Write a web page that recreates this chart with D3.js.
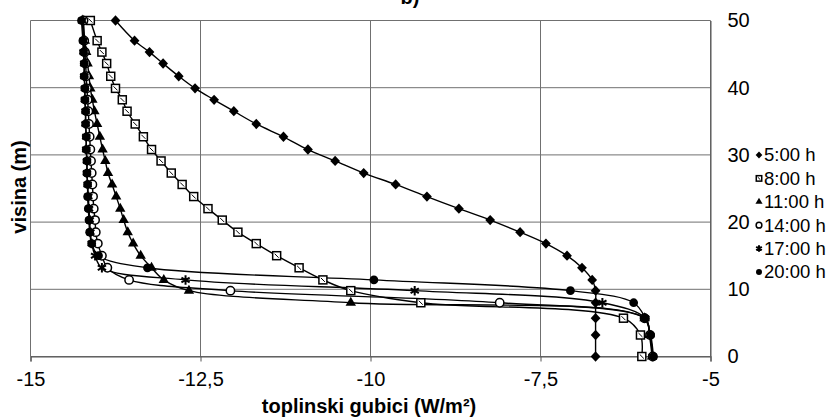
<!DOCTYPE html>
<html><head><meta charset="utf-8">
<script src="https://cdn.jsdelivr.net/npm/d3@7"></script>
<style>
body{margin:0;background:#fff}
svg{display:block}
text{font-family:"Liberation Sans",Arial,sans-serif;fill:#000}
</style>
</head><body>
<svg id="chart" width="831" height="420"></svg>
<script>
// ---- data ----
const heights = [0, 3.2, 5.7, 8.0, 9.8, 11.4, 13.2, 15.0, 16.8, 18.5, 20.3, 22.0, 23.8, 25.6, 27.3, 29.1, 30.8, 32.7, 34.6, 36.5, 38.2, 39.9, 41.7, 43.6, 45.3, 47.0, 50];
const h0500 = [-6.69,-6.69,-6.69,-6.69,-6.69,-6.74,-6.89,-7.11,-7.42,-7.80,-8.24,-8.70,-9.17,-9.63,-10.10,-10.52,-10.92,-11.28,-11.68,-12.01,-12.30,-12.58,-12.82,-13.05,-13.25,-13.47,-13.75];
const h0800 = [-6.01,-6.03,-6.28,-9.26,-10.29,-10.70,-11.05,-11.38,-11.68,-11.95,-12.18,-12.39,-12.60,-12.77,-12.93,-13.08,-13.22,-13.34,-13.46,-13.58,-13.65,-13.75,-13.82,-13.88,-13.95,-14.02,-14.12];
const h1100 = [-5.86,-5.90,-5.97,-10.29,-12.67,-13.04,-13.22,-13.38,-13.49,-13.57,-13.63,-13.68,-13.74,-13.80,-13.86,-13.90,-13.94,-13.98,-14.02,-14.06,-14.09,-14.12,-14.14,-14.16,-14.18,-14.20,-14.23];
const h1400 = [-5.85,-5.89,-5.97,-8.10,-12.06,-13.55,-13.87,-13.95,-14.01,-14.04,-14.05,-14.07,-14.08,-14.09,-14.10,-14.11,-14.12,-14.13,-14.14,-14.15,-14.16,-14.17,-14.18,-14.19,-14.20,-14.21,-14.22];
const h1700 = [-5.85,-5.89,-5.96,-6.59,-9.35,-12.72,-13.95,-14.05,-14.10,-14.12,-14.13,-14.14,-14.15,-14.16,-14.17,-14.17,-14.18,-14.18,-14.19,-14.19,-14.20,-14.20,-14.21,-14.21,-14.22,-14.22,-14.24];
const h2000 = [-5.84,-5.88,-5.96,-6.13,-7.06,-9.95,-13.28,-14.00,-14.10,-14.13,-14.14,-14.15,-14.16,-14.16,-14.17,-14.17,-14.18,-14.18,-14.19,-14.19,-14.20,-14.20,-14.21,-14.21,-14.22,-14.23,-14.25];
const seriesNames = ["5:00 h","8:00 h","11:00 h","14:00 h","17:00 h","20:00 h"];
const seriesValues = [h0500,h0800,h1100,h1400,h1700,h2000];
const xTicks = [-15,-12.5,-10,-7.5,-5];
const yTicks = [0,10,20,30,40,50];
const titleText = "b)";
const xTitle = "toplinski gubici (W/m²)";
const yTitle = "visina (m)";

// ---- layout ----
const L = 30.5, R = 710.5, T = 20.5, B = 356.5;
const svg = d3.select("#chart");
const x = d3.scaleLinear().domain([-15,-5]).range([L,R]);
const y = d3.scaleLinear().domain([0,50]).range([B,T]);
const grid = "#707070";

// gridlines
svg.append("g").selectAll("line").data(xTicks).join("line")
  .attr("x1",d=>x(d)).attr("x2",d=>x(d)).attr("y1",T).attr("y2",B)
  .attr("stroke",grid).attr("stroke-width",1);
svg.append("g").selectAll("line").data(yTicks).join("line")
  .attr("x1",L).attr("x2",R).attr("y1",d=>y(d)).attr("y2",d=>y(d))
  .attr("stroke",grid).attr("stroke-width",1);

// x axis
const xAxis = svg.append("g").attr("transform",`translate(0,${B})`)
  .call(d3.axisBottom(x).tickValues(xTicks).tickSize(5).tickPadding(10)
    .tickFormat(d=>String(d).replace(".",",")));
xAxis.select(".domain").attr("stroke","#555").attr("stroke-width",1.2);
xAxis.selectAll(".tick line").attr("stroke","#555");
xAxis.selectAll("text").attr("font-size",20).attr("font-family","Liberation Sans, Arial, sans-serif");

// y axis (right)
const yAxis = svg.append("g").attr("transform",`translate(${R},0)`)
  .call(d3.axisRight(y).tickValues(yTicks).tickSize(0).tickPadding(17));
yAxis.select(".domain").attr("stroke","#555");
yAxis.selectAll("text").attr("font-size",20).attr("font-family","Liberation Sans, Arial, sans-serif");

// titles
svg.append("text").attr("x",410).attr("y",4).attr("text-anchor","middle")
  .attr("font-size",20).attr("font-weight","bold").text(titleText);
svg.append("text").attr("x",369).attr("y",413).attr("text-anchor","middle")
  .attr("font-size",20).attr("font-weight","bold").text(xTitle);
svg.append("text").attr("transform","translate(26,187) rotate(-90)").attr("text-anchor","middle")
  .attr("font-size",20).attr("font-weight","bold").text(yTitle);

// lines
const line = d3.line().x(d=>x(d[0])).y(d=>y(d[1])).curve(d3.curveCatmullRom.alpha(0.5));
seriesValues.forEach(vals=>{
  const pts = vals.map((v,i)=>[v,heights[i]]);
  svg.append("path").attr("d",line(pts)).attr("fill","none").attr("stroke","#000").attr("stroke-width",1.4);
});

// markers
function drawMarker(g, k, cx, cy, s){
  const sym = d3.symbol();
  if(k===0){ g.append("path").attr("d",sym.type(d3.symbolDiamond2).size(s*s*0.75)()).attr("transform",`translate(${cx},${cy}) scale(0.95,1)`).attr("fill","#000"); }
  else if(k===1){ const a=s*0.42; g.append("rect").attr("x",cx-a).attr("y",cy-a).attr("width",2*a).attr("height",2*a).attr("fill","#fff").attr("stroke","#000").attr("stroke-width",1.5);
    g.append("line").attr("x1",cx-a*0.5).attr("x2",cx+a*0.5).attr("y1",cy-a*0.5).attr("y2",cy+a*0.5).attr("stroke","#000").attr("stroke-width",1); }
  else if(k===2){ g.append("path").attr("d",sym.type(d3.symbolTriangle).size(s*s*0.52)()).attr("transform",`translate(${cx},${cy})`).attr("fill","#000"); }
  else if(k===3){ g.append("circle").attr("cx",cx).attr("cy",cy).attr("r",s*0.44).attr("fill","#fff").attr("stroke","#000").attr("stroke-width",1.5); }
  else if(k===4){ g.append("path").attr("d",sym.type(d3.symbolAsterisk).size(s*s*0.7)()).attr("transform",`translate(${cx},${cy})`).attr("fill","none").attr("stroke","#000").attr("stroke-width",2); }
  else { g.append("circle").attr("cx",cx).attr("cy",cy).attr("r",s*0.46).attr("fill","#000"); }
}
seriesValues.forEach((vals,k)=>{
  const g = svg.append("g");
  vals.forEach((v,i)=>drawMarker(g,k,x(v),y(heights[i]),9.5));
});

// legend
const lg = svg.append("g");
seriesNames.forEach((n,i)=>{
  const cy = 155 + i*23.4;
  drawMarker(lg,i,759,cy,6.5);
  lg.append("text").attr("x",764).attr("y",cy).attr("dy","0.35em").attr("font-size",18.5).text(n);
});
</script>
</body></html>
